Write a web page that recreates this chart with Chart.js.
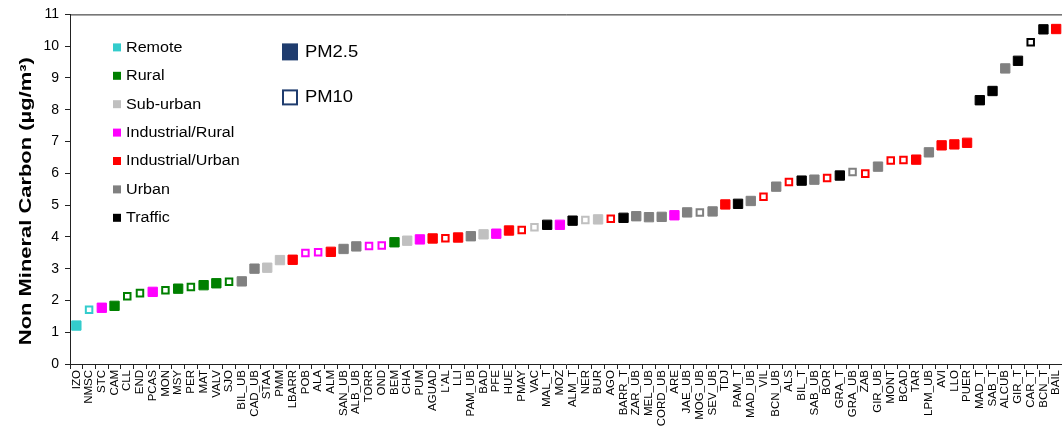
<!DOCTYPE html>
<html>
<head>
<meta charset="utf-8">
<script src="https://cdn.jsdelivr.net/npm/chart.js@4/dist/chart.umd.min.js"></script>
<style>
  html, body { margin: 0; padding: 0; background: #fff; overflow: hidden; }
  #wrap { width: 1071px; height: 433px; position: relative; }
</style>
</head>
<body>
<div id="wrap"><canvas id="ncChart"></canvas></div>
<script>
// sites, ordered by concentration
const sites = ['IZO','NMSC','STC','CAM','CLL','END','PCAS','MON','MSY','PER','MAT','VALV','SJO','BIL_UB',
  'CAD_UB','STAA','PMM','LBARR','POB','ALA','ALM','SAN_UB','ALB_UB','TORR','OND','BEM','CHA','PUM',
  'AGUAD',"L'AL",'LLI','PAM_UB','BAD','PFE','HUE','PMAY','VAC','MAL_T','MOZ','ALM_T','NER','BUR',
  'AGO','BARR_T','ZAR_UB','MEL_UB','CORD_UB','ARE','JAE_UB','MOG_UB','SEV_UB','TDJ','PAM_T','MAD_UB',
  'VIL','BCN_UB','ALS','BIL_T','SAB_UB','BOR','GRA_T','GRA_UB','ZAB','GIR_UB','MONT','BCAD','TAR',
  'LPM_UB','AVI','LLO','PUER','MAD_T','SAB_T','ALCUB','GIR_T','CAR_T','BCN_T','BAIL'];

// non mineral carbon, µg/m3
const ncValues = [1.21,1.71,1.77,1.83,2.13,2.23,2.27,2.32,2.37,2.42,2.48,2.54,2.59,2.6,
  3.0,3.03,3.27,3.28,3.49,3.52,3.53,3.62,3.7,3.71,3.73,3.83,3.88,3.92,
  3.95,3.96,3.98,4.02,4.08,4.1,4.2,4.22,4.3,4.38,4.38,4.51,4.53,4.55,
  4.57,4.6,4.65,4.62,4.63,4.68,4.77,4.77,4.8,5.02,5.04,5.13,
  5.26,5.58,5.73,5.77,5.8,5.85,5.93,6.04,5.99,6.21,6.4,6.42,6.43,
  6.66,6.88,6.91,6.96,8.3,8.59,9.3,9.54,10.12,10.53,10.54];

// station type per site
const siteTypes = ['Remote','Remote','Industrial/Rural','Rural','Rural','Rural','Industrial/Rural','Rural','Rural','Rural','Rural','Rural','Rural','Urban',
  'Urban','Sub-urban','Sub-urban','Industrial/Urban','Industrial/Rural','Industrial/Rural','Industrial/Urban','Urban','Urban','Industrial/Rural','Industrial/Rural','Rural','Sub-urban','Industrial/Rural',
  'Industrial/Urban','Industrial/Urban','Industrial/Urban','Urban','Sub-urban','Industrial/Rural','Industrial/Urban','Industrial/Urban','Sub-urban','Traffic','Industrial/Rural','Traffic','Sub-urban','Sub-urban',
  'Industrial/Urban','Traffic','Urban','Urban','Urban','Industrial/Rural','Urban','Urban','Urban','Industrial/Urban','Traffic','Urban',
  'Industrial/Urban','Urban','Industrial/Urban','Traffic','Urban','Industrial/Urban','Traffic','Urban','Industrial/Urban','Urban','Industrial/Urban','Industrial/Urban','Industrial/Urban',
  'Urban','Industrial/Urban','Industrial/Urban','Industrial/Urban','Traffic','Traffic','Urban','Traffic','Traffic','Traffic','Industrial/Urban'];

// size fraction per site
const fractions = ['PM2.5','PM10','PM2.5','PM2.5','PM10','PM10','PM2.5','PM10','PM2.5','PM10','PM2.5','PM2.5','PM10','PM2.5',
  'PM2.5','PM2.5','PM2.5','PM2.5','PM10','PM10','PM2.5','PM2.5','PM2.5','PM10','PM10','PM2.5','PM2.5','PM2.5',
  'PM2.5','PM10','PM2.5','PM2.5','PM2.5','PM2.5','PM2.5','PM10','PM10','PM2.5','PM2.5','PM2.5','PM10','PM2.5',
  'PM10','PM2.5','PM2.5','PM2.5','PM2.5','PM2.5','PM2.5','PM10','PM2.5','PM2.5','PM2.5','PM2.5',
  'PM10','PM2.5','PM10','PM2.5','PM2.5','PM10','PM2.5','PM10','PM10','PM2.5','PM10','PM10','PM2.5',
  'PM2.5','PM2.5','PM2.5','PM2.5','PM2.5','PM2.5','PM2.5','PM2.5','PM10','PM2.5','PM2.5'];

const typeNames = ['Remote','Rural','Sub-urban','Industrial/Rural','Industrial/Urban','Urban','Traffic'];
const typeColors = ['#33CCCC','#008000','#C0C0C0','#FF00FF','#FF0000','#808080','#000000'];
const yTicks = [0,1,2,3,4,5,6,7,8,9,10,11];
const yTitle = 'Non Mineral Carbon (µg/m³)';

const colorOf = t => typeColors[typeNames.indexOf(t)];
const pointColors = siteTypes.map(colorOf);

const FONT = 'Arial, "Liberation Sans", sans-serif';
const STRETCH = 1.15; // text in the original figure is a bit wider than Arial

function wideText(ctx, text, x, y, sx) {
  ctx.save();
  ctx.translate(x, y);
  ctx.scale(sx, 1);
  ctx.fillText(text, 0, 0);
  ctx.restore();
}

// legend, frame line and axis title drawn by hand, like the original figure
const insideLegend = {
  id: 'insideLegend',
  afterDraw(chart) {
    const ctx = chart.ctx;
    const a = chart.chartArea;
    ctx.save();
    ctx.strokeStyle = '#222';
    ctx.lineWidth = 1;
    ctx.beginPath();
    ctx.moveTo(a.left, a.top + 0.5);
    ctx.lineTo(a.right, a.top + 0.5);
    ctx.stroke();

    ctx.font = '14px ' + FONT;
    ctx.textBaseline = 'middle';
    ctx.textAlign = 'left';
    typeNames.forEach((name, i) => {
      const y = a.top + 33.5 + i * 28.4;
      ctx.fillStyle = typeColors[i];
      ctx.fillRect(a.left + 43, y - 4.5, 8, 8);
      ctx.fillStyle = '#000';
      wideText(ctx, name, a.left + 56, y, STRETCH);
    });

    ctx.font = '16px ' + FONT;
    ctx.fillStyle = '#1F3C6E';
    ctx.fillRect(a.left + 212, a.top + 29, 16, 17);
    ctx.fillStyle = '#000';
    wideText(ctx, 'PM2.5', a.left + 235, a.top + 38, STRETCH);
    ctx.strokeStyle = '#1F3C6E';
    ctx.lineWidth = 2;
    ctx.strokeRect(a.left + 213, a.top + 76, 14, 14);
    wideText(ctx, 'PM10', a.left + 235, a.top + 83, STRETCH);

    // y axis title, rotated
    ctx.font = 'bold 16px ' + FONT;
    ctx.textAlign = 'center';
    ctx.textBaseline = 'alphabetic';
    const w = ctx.measureText(yTitle).width;
    ctx.translate(31, (a.top + a.bottom) / 2 + 12);
    ctx.rotate(-Math.PI / 2);
    ctx.scale(288 / w, 1);
    ctx.fillText(yTitle, 0, 0);
    ctx.restore();
  }
};

const ctx = document.getElementById('ncChart').getContext('2d');
new Chart(ctx, {
  type: 'line',
  data: {
    labels: sites,
    datasets: [
      {
        label: 'PM2.5',
        data: ncValues.map((v, i) => fractions[i] === 'PM2.5' ? v : null),
        showLine: false,
        pointStyle: 'rect',
        pointRadius: 6.6,
        pointBackgroundColor: pointColors,
        pointBorderColor: pointColors,
        pointBorderWidth: 1
      },
      {
        label: 'PM10',
        data: ncValues.map((v, i) => fractions[i] === 'PM10' ? v : null),
        showLine: false,
        pointStyle: 'rect',
        pointRadius: 4.6,
        pointBackgroundColor: '#ffffff',
        pointBorderColor: pointColors,
        pointBorderWidth: 2
      }
    ]
  },
  options: {
    responsive: true,
    maintainAspectRatio: false,
    animation: false,
    layout: { padding: { top: 14, left: 0, right: 0, bottom: 0 } },
    plugins: {
      legend: { display: false },
      tooltip: { enabled: false }
    },
    scales: {
      x: {
        offset: true,
        afterFit(scale) { scale.height = 69; },
        grid: {
          offset: true,
          drawOnChartArea: false,
          drawTicks: true,
          tickLength: 5,
          color: '#222'
        },
        border: { color: '#222', width: 1 },
        ticks: {
          autoSkip: false,
          minRotation: 90,
          maxRotation: 90,
          padding: 1,
          color: '#000',
          font: { family: FONT, size: 11.5 }
        }
      },
      y: {
        min: 0,
        max: 11,
        afterFit(scale) { scale.width = 70; },
        afterBuildTicks(scale) { scale.ticks = yTicks.map(v => ({ value: v })); },
        grid: {
          drawOnChartArea: false,
          drawTicks: true,
          tickLength: 5,
          color: '#222'
        },
        border: { color: '#222', width: 1 },
        ticks: {
          padding: 6,
          color: '#000',
          font: { family: FONT, size: 14 }
        }
      }
    }
  },
  plugins: [insideLegend]
});
</script>
</body>
</html>
